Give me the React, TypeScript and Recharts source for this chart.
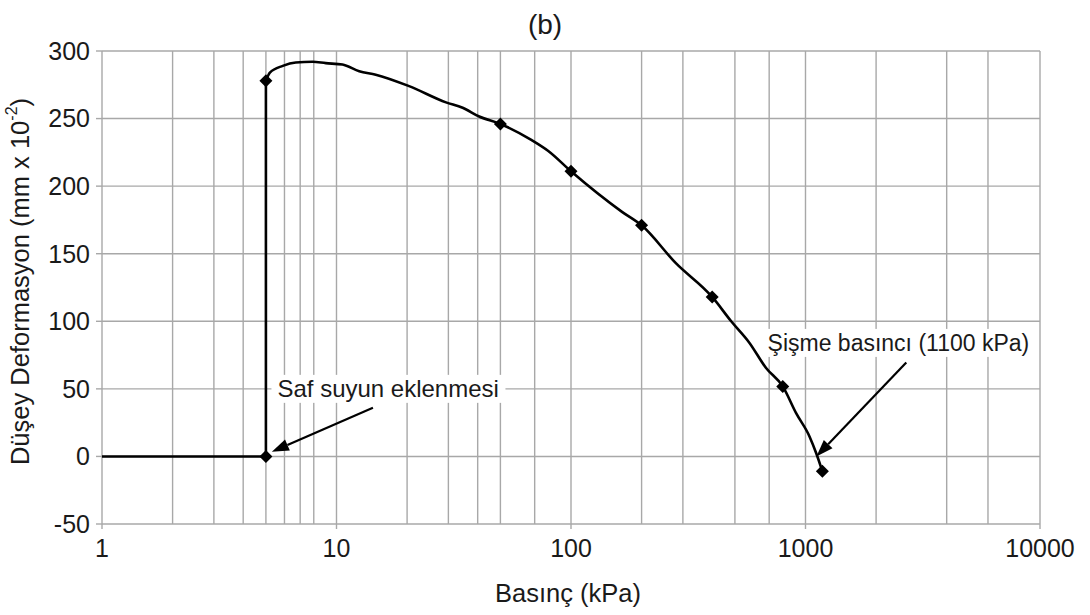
import React from 'react';
import {
  ComposedChart,
  Line,
  Scatter,
  XAxis,
  YAxis,
  CartesianGrid,
  ReferenceLine,
  ReferenceDot,
} from 'recharts';

// Seating stage before water is added: pressure (kPa) vs deformation (mm x 10^-2)
const seatPressure = [1, 5, 5];
const seatDeformation = [0, 0, 278];

// Swell / loading record after water is added
const curvePressure = [
  5, 5.2, 5.9, 6.7, 7.9, 9, 10.6, 12.5, 14.7, 20.4, 29.3, 34.5, 40.6, 50,
  68, 80, 100, 165, 200, 280, 400, 482, 577, 679, 800, 912, 1040, 1110, 1180,
];
const curveDeformation = [
  278, 284, 289, 291.5, 292, 291, 290, 285, 282.5, 274, 262, 258, 251.5, 246,
  234, 226, 211, 181, 171, 143, 118, 100, 84, 65.4, 51.8, 32, 14.8, 2.5, -11,
];

// Load-step readings (diamond markers)
const readingPressure = [5, 5, 50, 100, 200, 400, 800, 1180];
const readingDeformation = [0, 278, 246, 211, 171, 118, 51.8, -11];

const xTicks = [1, 10, 100, 1000, 10000];
const yTicks = [-50, 0, 50, 100, 150, 200, 250, 300];
const decades = [1, 10, 100, 1000];
const steps = [1, 2, 3, 4, 5, 6, 7, 8, 9];

const titleText = '(b)';
const xTitle = 'Basınç (kPa)';
const yTitle = 'Düşey Deformasyon (mm x 10';
const yTitleExp = '-2';
const noteWater = 'Saf suyun eklenmesi';
const noteSwell = 'Şişme basıncı (1100 kPa)';

// Arrow endpoints in data units
const waterArrow = { from: [14.3, 36], to: [5.3, 3.5] };
const swellArrow = { from: [2690, 69.5], to: [1113, 0] };
const waterNoteAt = [5.6, 50];
const swellNoteAt = [689, 84];

const seatData = seatPressure.map((p, i) => ({ p, d: seatDeformation[i] }));
const curveData = curvePressure.map((p, i) => ({ p, d: curveDeformation[i] }));
const readingData = readingPressure.map((p, i) => ({ p, d: readingDeformation[i] }));
const gridX = [...decades.flatMap((d) => steps.map((s) => d * s)), 10000];

const FONT = '"Liberation Sans", Arial, Helvetica, sans-serif';
const INK = '#1a1a1a';
const GRID = '#a8a8a8';

const Diamond = (props: any) => {
  const { cx, cy } = props;
  if (cx == null || cy == null) return null;
  const r = 6.5;
  return (
    <polygon
      points={`${cx},${cy - r} ${cx + r},${cy} ${cx},${cy + r} ${cx - r},${cy}`}
      fill="#000"
    />
  );
};

const Arrow = (props: any) => {
  const { x1, y1, x2, y2 } = props;
  if ([x1, y1, x2, y2].some((v) => v == null || isNaN(v))) return null;
  const ang = Math.atan2(y2 - y1, x2 - x1);
  const len = 17;
  const half = 6;
  const bx = x2 - len * Math.cos(ang);
  const by = y2 - len * Math.sin(ang);
  const px = -Math.sin(ang) * half;
  const py = Math.cos(ang) * half;
  return (
    <g>
      <line x1={x1} y1={y1} x2={bx} y2={by} stroke="#000" strokeWidth={2.2} />
      <polygon
        points={`${x2},${y2} ${bx + px},${by + py} ${bx - px},${by - py}`}
        fill="#000"
      />
    </g>
  );
};

const makeNote = (text: string, boxWidth: number, size: number) => (props: any) => {
  const { cx, cy } = props;
  if (cx == null || cy == null) return null;
  return (
    <g>
      <rect x={cx - 6} y={cy - 14} width={boxWidth} height={28} fill="#fff" />
      <text
        x={cx}
        y={cy}
        dy="0.35em"
        fontFamily={FONT}
        fontSize={size}
        fill={INK}
        textAnchor="start"
      >
        {text}
      </text>
    </g>
  );
};

const YTitle = (props: any) => {
  const vb = props.viewBox || {};
  const cy = vb.y + vb.height / 2 - 6;
  const cx = 20;
  return (
    <text
      x={cx}
      y={cy}
      transform={`rotate(-90, ${cx}, ${cy})`}
      textAnchor="middle"
      dominantBaseline="central"
      fontFamily={FONT}
      fontSize={25.5}
      fill={INK}
    >
      <tspan>{yTitle}</tspan>
      <tspan dy={-9} fontSize={16}>
        {yTitleExp}
      </tspan>
      <tspan dy={9}>)</tspan>
    </text>
  );
};

const XTitle = (props: any) => {
  const vb = props.viewBox || {};
  const cx = vb.x + vb.width / 2 - 3;
  return (
    <text
      x={cx}
      y={593}
      textAnchor="middle"
      dominantBaseline="central"
      fontFamily={FONT}
      fontSize={25.5}
      fill={INK}
    >
      {xTitle}
    </text>
  );
};

export default function App() {
  return (
    <div style={{ position: 'absolute', left: 0, top: 0, width: 1090, height: 615, background: '#fff' }}>
      <ComposedChart
        width={1090}
        height={615}
        margin={{ top: 51, right: 50, bottom: 51, left: 0 }}
        style={{ position: 'absolute', left: 0, top: 0 }}
      >
        <CartesianGrid
          verticalValues={gridX}
          horizontalValues={yTicks}
          stroke={GRID}
          strokeWidth={1.4}
        />
        <XAxis
          dataKey="p"
          type="number"
          scale="log"
          domain={[1, 10000]}
          ticks={xTicks}
          allowDataOverflow
          height={40}
          axisLine={false}
          tickSize={5}
          tickMargin={10}
          tickLine={{ stroke: GRID, strokeWidth: 1.4 }}
          tick={{ fill: INK, fontSize: 25, fontFamily: FONT }}
          label={<XTitle />}
        />
        <YAxis
          dataKey="d"
          type="number"
          domain={[-50, 300]}
          ticks={yTicks}
          allowDataOverflow
          width={102}
          axisLine={false}
          tickSize={6}
          tickMargin={6}
          tickLine={{ stroke: GRID, strokeWidth: 1.4 }}
          tick={{ fill: INK, fontSize: 25, fontFamily: FONT }}
          label={<YTitle />}
        />
        <Line
          data={seatData}
          dataKey="d"
          type="linear"
          stroke="#000"
          strokeWidth={2.6}
          dot={false}
          activeDot={false}
          isAnimationActive={false}
        />
        <Line
          data={curveData}
          dataKey="d"
          type="monotone"
          stroke="#000"
          strokeWidth={2.6}
          dot={false}
          activeDot={false}
          isAnimationActive={false}
        />
        <Scatter
          data={readingData}
          dataKey="d"
          shape={<Diamond />}
          isAnimationActive={false}
        />
        <ReferenceDot
          x={waterNoteAt[0]}
          y={waterNoteAt[1]}
          r={1}
          shape={makeNote(noteWater, 234, 24)}
        />
        <ReferenceDot
          x={swellNoteAt[0]}
          y={swellNoteAt[1]}
          r={1}
          shape={makeNote(noteSwell, 268, 23)}
        />
        <ReferenceLine
          segment={[
            { x: waterArrow.from[0], y: waterArrow.from[1] },
            { x: waterArrow.to[0], y: waterArrow.to[1] },
          ]}
          shape={<Arrow />}
        />
        <ReferenceLine
          segment={[
            { x: swellArrow.from[0], y: swellArrow.from[1] },
            { x: swellArrow.to[0], y: swellArrow.to[1] },
          ]}
          shape={<Arrow />}
        />
      </ComposedChart>
      <div
        style={{
          position: 'absolute',
          left: 0,
          width: 1090,
          top: 8,
          textAlign: 'center',
          fontFamily: FONT,
          fontSize: 28,
          color: INK,
          lineHeight: '34px',
        }}
      >
        {titleText}
      </div>
    </div>
  );
}
